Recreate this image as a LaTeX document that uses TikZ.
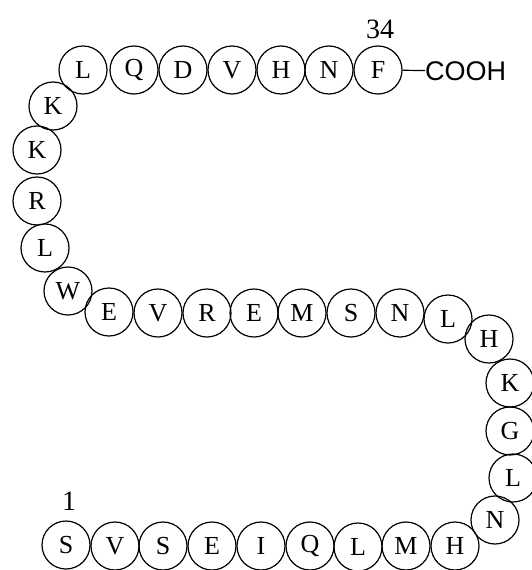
\documentclass[tikz,border=0pt]{standalone}
\usepackage{fontspec}
\setmainfont{Liberation Serif}
\newfontfamily\cooh{Liberation Sans}
\begin{document}
\begin{tikzpicture}[x=1pt,y=-1pt,
  aa/.style={circle,draw,line width=1.2pt,minimum size=48pt,inner sep=0pt,
    font=\fontsize{26}{26}\selectfont},
  numlab/.style={font=\fontsize{28}{28}\selectfont,inner sep=0pt},
  endlab/.style={font=\cooh\fontsize{27}{27}\selectfont,inner sep=0pt,anchor=west}]
\useasboundingbox (0,0) rectangle (532,570);
\node[aa] (r1) at (66,545) {S};
\node[aa] (r2) at (115,546) {V};
\node[aa] (r3) at (163,546) {S};
\node[aa] (r4) at (212,546) {E};
\node[aa] (r5) at (261,546) {I};
\node[aa] (r6) at (310,546) {Q};
\node[aa] (r7) at (358,547) {L};
\node[aa] (r8) at (406,546) {M};
\node[aa] (r9) at (455,546) {H};
\node[aa] (r10) at (495,520) {N};
\node[aa] (r11) at (513,478) {L};
\node[aa] (r12) at (510,431) {G};
\node[aa] (r13) at (510,383) {K};
\node[aa] (r14) at (489,339) {H};
\node[aa] (r15) at (448,319) {L};
\node[aa] (r16) at (400,313) {N};
\node[aa] (r17) at (351,313) {S};
\node[aa] (r18) at (302,313) {M};
\node[aa] (r19) at (254,313) {E};
\node[aa] (r20) at (207,313) {R};
\node[aa] (r21) at (158,313) {V};
\node[aa] (r22) at (109,312) {E};
\node[aa] (r23) at (68,291) {W};
\node[aa] (r24) at (45,248) {L};
\node[aa] (r25) at (37,201) {R};
\node[aa] (r26) at (37,150) {K};
\node[aa] (r27) at (53,106) {K};
\node[aa] (r28) at (83,70) {L};
\node[aa] (r29) at (134,70) {Q};
\node[aa] (r30) at (183,70) {D};
\node[aa] (r31) at (232,70) {V};
\node[aa] (r32) at (281,70) {H};
\node[aa] (r33) at (329,70) {N};
\node[aa] (r34) at (378,70) {F};
\node[numlab] (n34) at (380,29) {34};
\node[numlab] (n1) at (69,501) {1};
\node[endlab] (cooh) at (425,71) {COOH};
\draw[line width=1.2pt] (r34) -- (cooh);
\end{tikzpicture}
\end{document}
